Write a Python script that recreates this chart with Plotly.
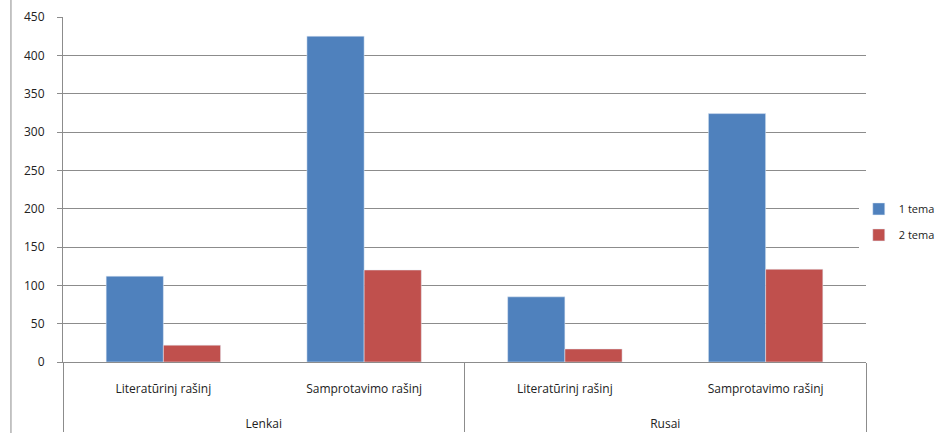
import plotly.graph_objects as go

groups = ["Lenkai", "Lenkai", "Rusai", "Rusai"]
categories = ["Literatūrinj rašinj", "Samprotavimo rašinj", "Literatūrinj rašinj", "Samprotavimo rašinj"]
tema1 = [112, 425, 85, 324]
tema2 = [22, 120, 17, 121]
y_ticks = [0, 50, 100, 150, 200, 250, 300, 350, 400, 450]

# blank leading lines push the axis labels down like in the reference
group_lbl = ["<br><br>" + g for g in groups]
cat_lbl = ["<br>" + c for c in categories]

fig = go.Figure()
fig.add_trace(go.Bar(x=[group_lbl, cat_lbl], y=tema1, name="1 tema", marker_color="#4F81BD",
                     legendgroup="a"))
fig.add_trace(go.Bar(x=[group_lbl, cat_lbl], y=tema2, name="2 tema", marker_color="#C0504D",
                     legendgroup="b"))

fig.update_layout(
    width=941, height=433,
    margin=dict(l=63, r=75, t=17, b=71, autoexpand=False),
    paper_bgcolor="white", plot_bgcolor="white",
    barmode="group", bargap=0.43, bargroupgap=0,
    font=dict(family="Open Sans, Liberation Sans, sans-serif", size=12, color="#222"),
    legend=dict(x=0.991, y=0.406, xanchor="left", yanchor="middle",
                font=dict(size=11), itemwidth=30, tracegroupgap=7),
    showlegend=True,
)
fig.update_yaxes(range=[0, 450], tickvals=y_ticks, showgrid=True, gridcolor="#8c8c8c",
                 gridwidth=1, showline=True, linecolor="#8c8c8c", ticks="outside",
                 ticklen=5, tickcolor="#8c8c8c", zeroline=False, ticklabelstandoff=10,
                 automargin=False)
fig.update_xaxes(showline=True, linecolor="#8c8c8c", showdividers=True,
                 dividercolor="#8c8c8c", dividerwidth=1, ticks="",
                 automargin=False, mirror=False)
fig.add_shape(type="line", xref="paper", yref="paper", x0=-0.0648, x1=-0.0648, y0=-0.3, y1=1.06,
              line=dict(color="#8c8c8c", width=1))
fig.write_html("out.html", config={"displayModeBar": False},
               post_script="document.body.style.margin='0';")
